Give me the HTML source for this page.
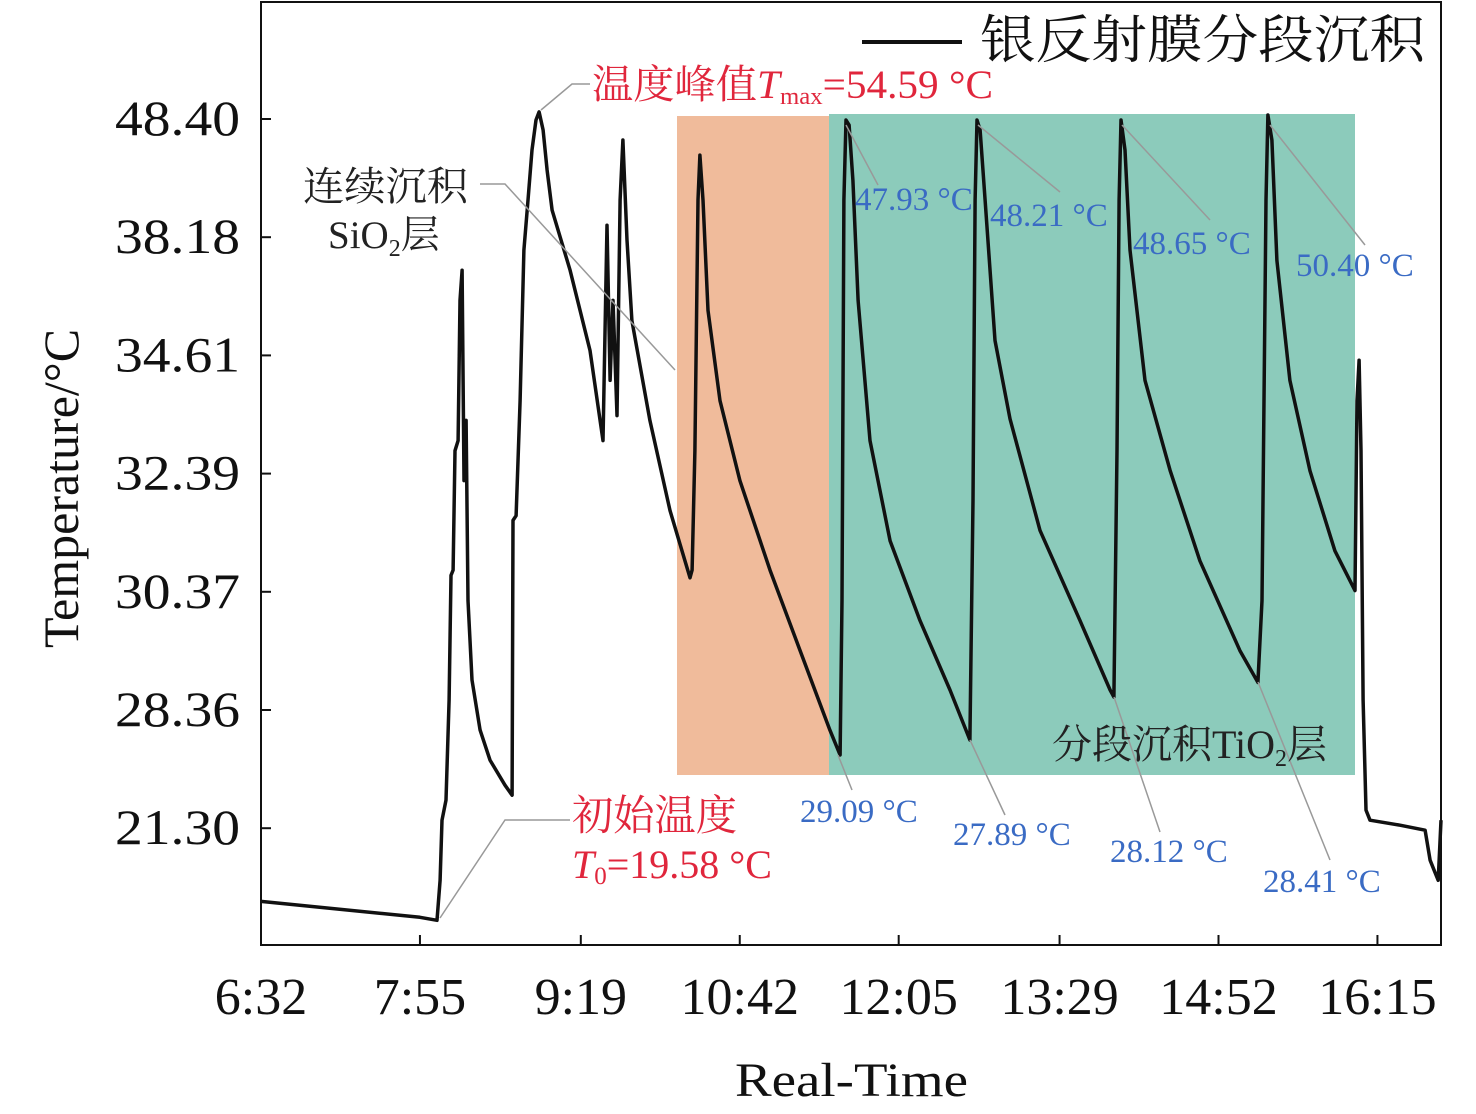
<!DOCTYPE html>
<html><head><meta charset="utf-8"><style>
html,body{margin:0;padding:0;background:#fff;}
svg{display:block;}
text{font-family:"Liberation Serif","Noto Serif CJK SC",serif;}
</style></head><body>
<svg id="chart" width="1476" height="1114" viewBox="0 0 1476 1114" xmlns="http://www.w3.org/2000/svg">
<rect x="677" y="116" width="152" height="659" fill="#f0bb9b"/>
<rect x="829" y="114" width="526" height="661" fill="#8ccbbb"/>
<g id="axes"></g>
<path id="curve" fill="none" stroke="#111" stroke-width="3.5" stroke-linejoin="round"/>
<g stroke="#999" stroke-width="1.5" fill="none">
<polyline points="541,110 572,84 590,84"/>
<polyline points="480,184 505,184 675,370"/>
<polyline points="440,918 505,820 570,820"/>
<line x1="846" y1="125" x2="878" y2="185"/>
<line x1="978" y1="125" x2="1060" y2="192"/>
<line x1="1122" y1="125" x2="1210" y2="220"/>
<line x1="1270" y1="125" x2="1365" y2="245"/>
<line x1="838" y1="755" x2="852" y2="790"/>
<line x1="970" y1="740" x2="1005" y2="815"/>
<line x1="1114" y1="697" x2="1160" y2="832"/>
<line x1="1258" y1="682" x2="1330" y2="860"/>
</g>
<line x1="862" y1="42" x2="962" y2="42" stroke="#111" stroke-width="4"/>
<text x="980" y="58" font-size="52" textLength="445" lengthAdjust="spacingAndGlyphs" fill="#111">银反射膜分段沉积</text>
<text x="592" y="98" font-size="40" textLength="401" lengthAdjust="spacingAndGlyphs" fill="#e0263c">温度峰值<tspan font-style="italic">T</tspan><tspan font-size="24" dy="6">max</tspan><tspan dy="-6">=54.59 °C</tspan></text>
<text x="303" y="200" font-size="40" textLength="165" lengthAdjust="spacingAndGlyphs" fill="#222">连续沉积</text>
<text x="328" y="248" font-size="39" fill="#222">SiO<tspan font-size="24" dy="8">2</tspan><tspan dy="-8">层</tspan></text>
<text x="572" y="830" font-size="42" textLength="165" lengthAdjust="spacingAndGlyphs" fill="#e0263c">初始温度</text>
<text x="572" y="878" font-size="40" fill="#e0263c"><tspan font-style="italic">T</tspan><tspan font-size="25" dy="6">0</tspan><tspan dy="-6">=19.58 °C</tspan></text>
<text x="1052" y="758" font-size="40" fill="#222">分段沉积TiO<tspan font-size="24" dy="8">2</tspan><tspan dy="-8">层</tspan></text>
<g font-size="33" fill="#3a6bc4">
<text x="855" y="210">47.93 °C</text>
<text x="990" y="226">48.21 °C</text>
<text x="1133" y="254">48.65 °C</text>
<text x="1296" y="276">50.40 °C</text>
<text x="800" y="822">29.09 °C</text>
<text x="953" y="845">27.89 °C</text>
<text x="1110" y="862">28.12 °C</text>
<text x="1263" y="892">28.41 °C</text>
</g>
<text x="735" y="1096" font-size="48" textLength="233" lengthAdjust="spacingAndGlyphs" fill="#111">Real-Time</text>
<text transform="translate(78,648) rotate(-90)" font-size="50" fill="#111">Temperature/°C</text>
</svg>
<script>
// y-axis tick values (non-linear, evenly spaced on screen)
const yTicks = [48.40, 38.18, 34.61, 32.39, 30.37, 28.36, 21.30];
const xTickLabels = ["6:32","7:55","9:19","10:42","12:05","13:29","14:52","16:15"];
const xTickMinutes = [0, 83, 167, 250, 333, 417, 500, 583];
// series: minutes since 6:32
const times = [0,83,91.9,93.5,94.5,96.6,98.2,99.2,100.3,101.3,102.9,103.9,105,106,107.1,108.1,110.2,114.4,119.6,127.4,131.1,131.6,133.2,135.3,137.3,139.4,141.5,143.6,145.2,147.3,149.4,152,161.4,171.8,178.6,180.7,182.3,183.8,185.9,187.5,189,191.1,193.7,203.1,213.6,224,225.1,226.6,228.2,229.2,230.8,233.4,239.7,250.1,265.8,281.5,297.1,302.4,303.4,304.4,305.5,307.1,309.1,311.8,318,328.5,344.1,359.8,370.2,371.8,372.9,373.9,375.5,378.1,383.3,391.1,406.8,427.7,443.4,445.4,447,448.1,449.1,451.2,453.8,461.6,474.7,490.3,511.2,520.6,522.7,524.8,525.8,527.9,530.5,537.3,547.8,560.8,571.3,572.3,573.4,574.4,575.5,577,579.1,594.8,607.9,610.5,612.6,614.7,616.2];
const temps = [16.93,15.98,15.8,18.19,21.78,22.98,28.53,30.65,30.74,32.82,33.01,36.27,37.18,32.27,33.39,30.22,28.87,27.16,25.37,23.87,23.27,31.59,31.67,33.76,37.79,41.39,45.72,48.31,49.01,47.45,43.98,40.52,37.18,34.76,33.01,39.22,34.14,36.27,33.48,41.39,46.58,38.09,35.66,33.39,31.76,30.61,30.74,32.82,41.39,45.28,41.39,35.97,33.76,32.27,30.74,29.37,27.16,25.67,30.22,41.39,48.31,47.88,43.12,36.27,33.01,31.24,29.88,28.7,26.57,31.93,41.39,48.31,47.45,41.39,35.06,33.42,31.42,29.88,28.7,28.58,32.82,41.39,48.31,45.72,37.79,34.14,32.45,30.9,29.37,28.83,30.22,41.39,48.75,46.58,37.48,34.14,32.44,31.07,30.39,33.76,34.52,32.82,28.53,22.38,21.78,21.48,21.18,19.39,18.79,18.19,21.78];

const X0=261, X1=1441, Y0=2, YB=945;
const yTickPx = i => 119 + i*118.2;
function xScale(m){ return X0 + m*1.915; }
function yScale(v){
  if (v >= yTicks[0]) return yTickPx(0) - (v-yTicks[0])/(yTicks[0]-yTicks[1])*118.2;
  for (let i=0;i<yTicks.length-1;i++){
    const a=yTicks[i], b=yTicks[i+1];
    if (v<=a && v>=b) return yTickPx(i) + (a-v)/(a-b)*118.2;
  }
  const n=yTicks.length-1;
  return yTickPx(n) + (yTicks[n]-v)/(yTicks[n-1]-yTicks[n])*118.2;
}
const NS="http://www.w3.org/2000/svg";
const ax=document.getElementById('axes');
function mk(tag, attrs){ const e=document.createElementNS(NS,tag); for(const k in attrs) e.setAttribute(k,attrs[k]); return e; }
const frame=mk('rect',{x:X0,y:Y0,width:X1-X0,height:YB-Y0,fill:'none',stroke:'#111','stroke-width':2});


ax.appendChild(frame);
yTicks.forEach((v,i)=>{
  const y=yScale(v);
  const t=mk('line',{x1:X0,x2:X0+10,y1:y,y2:y,stroke:'#111','stroke-width':2});
  
  
  ax.appendChild(t);
  const l=mk('text',{x:115,y:y+16,'font-size':50,textLength:125,lengthAdjust:'spacingAndGlyphs',fill:'#111'});
  l.textContent=v.toFixed(2);
  
  
  ax.appendChild(l);
});
xTickMinutes.forEach((m,i)=>{
  const x=xScale(m);
  const t=mk('line',{x1:x,x2:x,y1:YB,y2:YB-10,stroke:'#111','stroke-width':2});
  
  
  ax.appendChild(t);
  const l=mk('text',{x:x,y:1014,'font-size':52,'text-anchor':'middle',fill:'#111'});
  l.textContent=xTickLabels[i];
  
  
  ax.appendChild(l);
});
let d='';
times.forEach((m,i)=>{ d+=(i?'L':'M')+xScale(m).toFixed(1)+','+yScale(temps[i]).toFixed(1); });
document.getElementById('curve').setAttribute('d',d);
</script>
</body></html>
